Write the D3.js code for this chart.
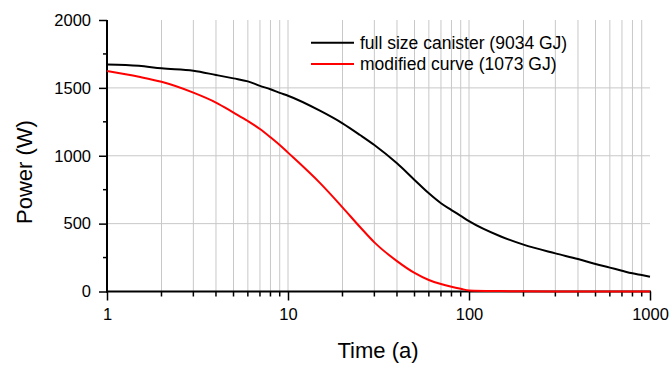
<!DOCTYPE html>
<html>
<head>
<meta charset="utf-8">
<script src="https://cdn.jsdelivr.net/npm/d3@7"></script>
<style>
body { margin: 0; background: #fff; }
text { font-family: "Liberation Sans", Arial, sans-serif; fill: #000; }
</style>
</head>
<body>
<script>
// time in years
var time = [1, 1.5, 2, 3, 4, 5, 6, 7, 8, 9, 10, 15, 20, 25, 30, 40, 50, 60, 70, 80, 90, 100, 150, 200, 300, 400, 500, 600, 700, 800, 900, 1000];
var fullSize = [1673, 1663, 1644, 1626, 1595, 1570, 1548, 1515, 1490, 1463, 1442, 1332, 1239, 1153, 1079, 944, 822, 723, 650, 600, 557, 518, 405, 345, 281, 239, 203, 176, 153, 134, 121, 109];
var modified = [1624, 1582, 1545, 1465, 1392, 1318, 1256, 1197, 1136, 1079, 1023, 800, 620, 475, 362, 224, 137, 85, 55, 35, 20, 8, 3, 1, 0, 0, 0, 0, 0, 0, 0, 0];
var seriesNames = ["full size canister (9034 GJ)", "modified curve (1073 GJ)"];
var seriesColors = ["#000000", "#ff0000"];
var yTicks = [0, 500, 1000, 1500, 2000];
var xTicks = [1, 10, 100, 1000];

var w = 672, h = 367;
var mLeft = 107, mRight = 650, mTop = 20, mBottom = 291.5;

var svg = d3.select("body").append("svg")
    .attr("width", w)
    .attr("height", h);

var x = d3.scaleLog().domain([1, 1000]).range([mLeft, mRight]);
var y = d3.scaleLinear().domain([0, 2000]).range([mBottom, mTop]);

// minor positions 2..9, 20..90, 200..900
var minor = [];
[1, 10, 100].forEach(function(d) {
    for (var k = 2; k <= 9; k++) { minor.push(d * k); }
});
var vgrid = minor.concat([10, 100]);

// grid
svg.append("g").selectAll("line")
    .data(vgrid).enter().append("line")
    .attr("x1", function(d) { return x(d); })
    .attr("x2", function(d) { return x(d); })
    .attr("y1", mTop).attr("y2", mBottom)
    .style("stroke", "#c8c8c8").style("stroke-width", 1);

svg.append("g").selectAll("line")
    .data([500, 1000, 1500]).enter().append("line")
    .attr("x1", mLeft).attr("x2", mRight)
    .attr("y1", function(d) { return y(d); })
    .attr("y2", function(d) { return y(d); })
    .style("stroke", "#c8c8c8").style("stroke-width", 1);

// y axis
var yAxis = d3.axisLeft(y).tickValues(yTicks).tickFormat(d3.format("d")).tickSize(8).tickPadding(8);
var gy = svg.append("g").attr("transform", "translate(" + mLeft + ",0)").call(yAxis);
gy.select(".domain").remove();
gy.selectAll("line").style("stroke", "#000").style("stroke-width", 1.5);
gy.selectAll("text").style("font-size", "16.5px").style("font-family", "Liberation Sans, Arial, sans-serif");

svg.append("g").selectAll("line")
    .data([250, 750, 1250, 1750]).enter().append("line")
    .attr("x1", mLeft - 4).attr("x2", mLeft)
    .attr("y1", function(d) { return y(d); })
    .attr("y2", function(d) { return y(d); })
    .style("stroke", "#000").style("stroke-width", 1.5);

// x axis
var xAxis = d3.axisBottom(x).tickValues(xTicks).tickFormat(d3.format("d")).tickSize(9).tickPadding(8);
var gx = svg.append("g").attr("transform", "translate(0," + mBottom + ")").call(xAxis);
gx.select(".domain").remove();
gx.selectAll("line").style("stroke", "#000").style("stroke-width", 1.5);
gx.selectAll("text").style("font-size", "16.5px").style("font-family", "Liberation Sans, Arial, sans-serif");

svg.append("g").selectAll("line")
    .data(minor).enter().append("line")
    .attr("x1", function(d) { return x(d); })
    .attr("x2", function(d) { return x(d); })
    .attr("y1", mBottom).attr("y2", mBottom + 5)
    .style("stroke", "#000").style("stroke-width", 1.5);

// axis lines
svg.append("line").attr("x1", mLeft).attr("x2", mLeft).attr("y1", mTop).attr("y2", mBottom + 1)
    .style("stroke", "#000").style("stroke-width", 2);
svg.append("line").attr("x1", mLeft - 1).attr("x2", mRight + 1).attr("y1", mBottom).attr("y2", mBottom)
    .style("stroke", "#000").style("stroke-width", 2);

// curves
var line = d3.line()
    .x(function(d) { return x(d[0]); })
    .y(function(d) { return y(d[1]); })
    .curve(d3.curveMonotoneX);

[fullSize, modified].forEach(function(s, i) {
    svg.append("path")
        .datum(time.map(function(t, j) { return [t, s[j]]; }))
        .attr("d", line)
        .style("fill", "none")
        .style("stroke", seriesColors[i])
        .style("stroke-width", 2);
});

// legend
var leg = svg.append("g").selectAll("g")
    .data(seriesNames).enter().append("g")
    .attr("transform", function(d, i) { return "translate(311," + (42.7 + i * 21.3) + ")"; });
leg.append("line").attr("x1", 0).attr("x2", 43)
    .style("stroke", function(d, i) { return seriesColors[i]; })
    .style("stroke-width", 2);
leg.append("text").attr("x", 49).attr("dy", "0.35em")
    .style("font-size", "17.5px")
    .text(function(d) { return d; });

// axis titles
svg.append("text")
    .attr("x", 378).attr("y", 358)
    .attr("text-anchor", "middle")
    .style("font-size", "22px")
    .text("Time (a)");

svg.append("text")
    .attr("transform", "translate(32,172) rotate(-90)")
    .attr("text-anchor", "middle")
    .style("font-size", "22px")
    .text("Power (W)");
</script>
</body>
</html>
